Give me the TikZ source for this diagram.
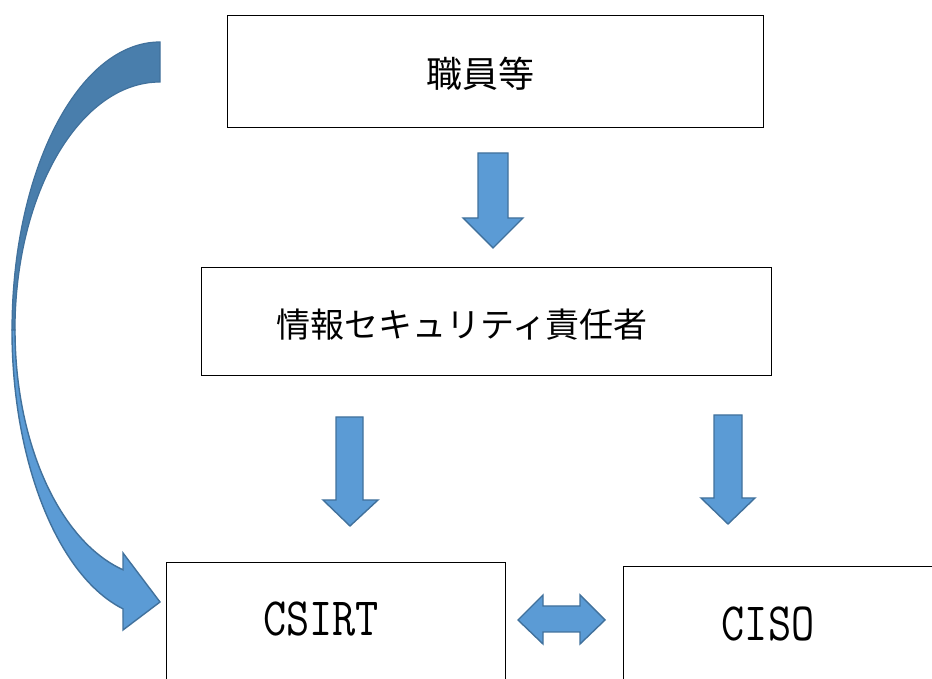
\documentclass[tikz,border=0pt]{standalone}
\usepackage{fontspec}
\usepackage{graphicx}
\newfontfamily\cjkfont{Noto Sans CJK JP}
\definecolor{arrfill}{HTML}{5B9BD5}
\definecolor{arrline}{HTML}{41719C}
\definecolor{arrdark}{HTML}{497EAC}
\begin{document}
\begin{tikzpicture}[x=1pt,y=1pt,
  boxst/.style={draw=black,line width=0.9pt,fill=white,inner sep=0pt},
  blockarrow/.style={fill=arrfill,draw=arrline,line width=1.4pt,line join=miter},
  cjklabel/.style={font=\cjkfont\fontsize{#1}{#1}\selectfont,inner sep=0pt},
  latlabel/.style={font=\ttfamily\fontsize{45}{50}\selectfont,inner sep=0pt}]
\useasboundingbox (0,0) rectangle (932,679);
% boxes
\node[boxst,minimum width=536pt,minimum height=112pt] (staff) at (495,608) {};
\node[boxst,minimum width=570pt,minimum height=108pt] (officer) at (486,358) {};
\draw[line width=0.9pt,fill=white] (166,-20) -- (166,117) -- (505,117) -- (505,-20);
\coordinate (csirt) at (335.5,50);
\draw[line width=0.9pt,fill=white] (623,-20) -- (623,113) -- (945,113);
\coordinate (ciso) at (784,50);
% labels
\node[cjklabel=36] (t1) at (480,605) {職員等};
\node[cjklabel=34] (t2) at (462,354) {情報セキュリティ責任者};
\node[latlabel] (t3) at (321,60) {\scalebox{1}[1.2]{CSIRT}};
\node[latlabel] (t4) at (768,55) {\scalebox{1}[1.2]{CISO}};
% block arrows
\draw[blockarrow] (478,526) -- (508,526) -- (508,461) -- (523,461) -- (493,431) -- (463,461) -- (478,461) -- cycle;
\draw[blockarrow] (336,262) -- (363,262) -- (363,179) -- (378,179) -- (350,153) -- (323,179) -- (336,179) -- cycle;
\draw[blockarrow] (714,264) -- (742,264) -- (742,181) -- (755,181) -- (728,155) -- (701,181) -- (714,181) -- cycle;
% double arrow
\draw[blockarrow] (518,59) -- (543,84) -- (543,73) -- (580,73) -- (580,84) -- (605,59) -- (580,35) -- (580,47) -- (543,47) -- (543,35) -- cycle;
% curved arrow: back (dark) part
\draw[fill=arrdark,draw=arrline,line width=1.2pt]
  (160,637) arc[start angle=90,end angle=180,x radius=148pt,y radius=288pt]
  -- (15,349) arc[start angle=180,end angle=90,x radius=145pt,y radius=248pt] -- cycle;
% front (light) part with head
\draw[fill=arrfill,draw=arrline,line width=1.4pt,line join=miter]
  (12,349) arc[start angle=180,end angle=255.52,x radius=148pt,y radius=288pt]
  -- (123,49) -- (160,77) -- (123,126) -- (123,109.2)
  arc[start angle=255.21,end angle=180,x radius=145pt,y radius=248pt] -- cycle;
\end{tikzpicture}
\end{document}
